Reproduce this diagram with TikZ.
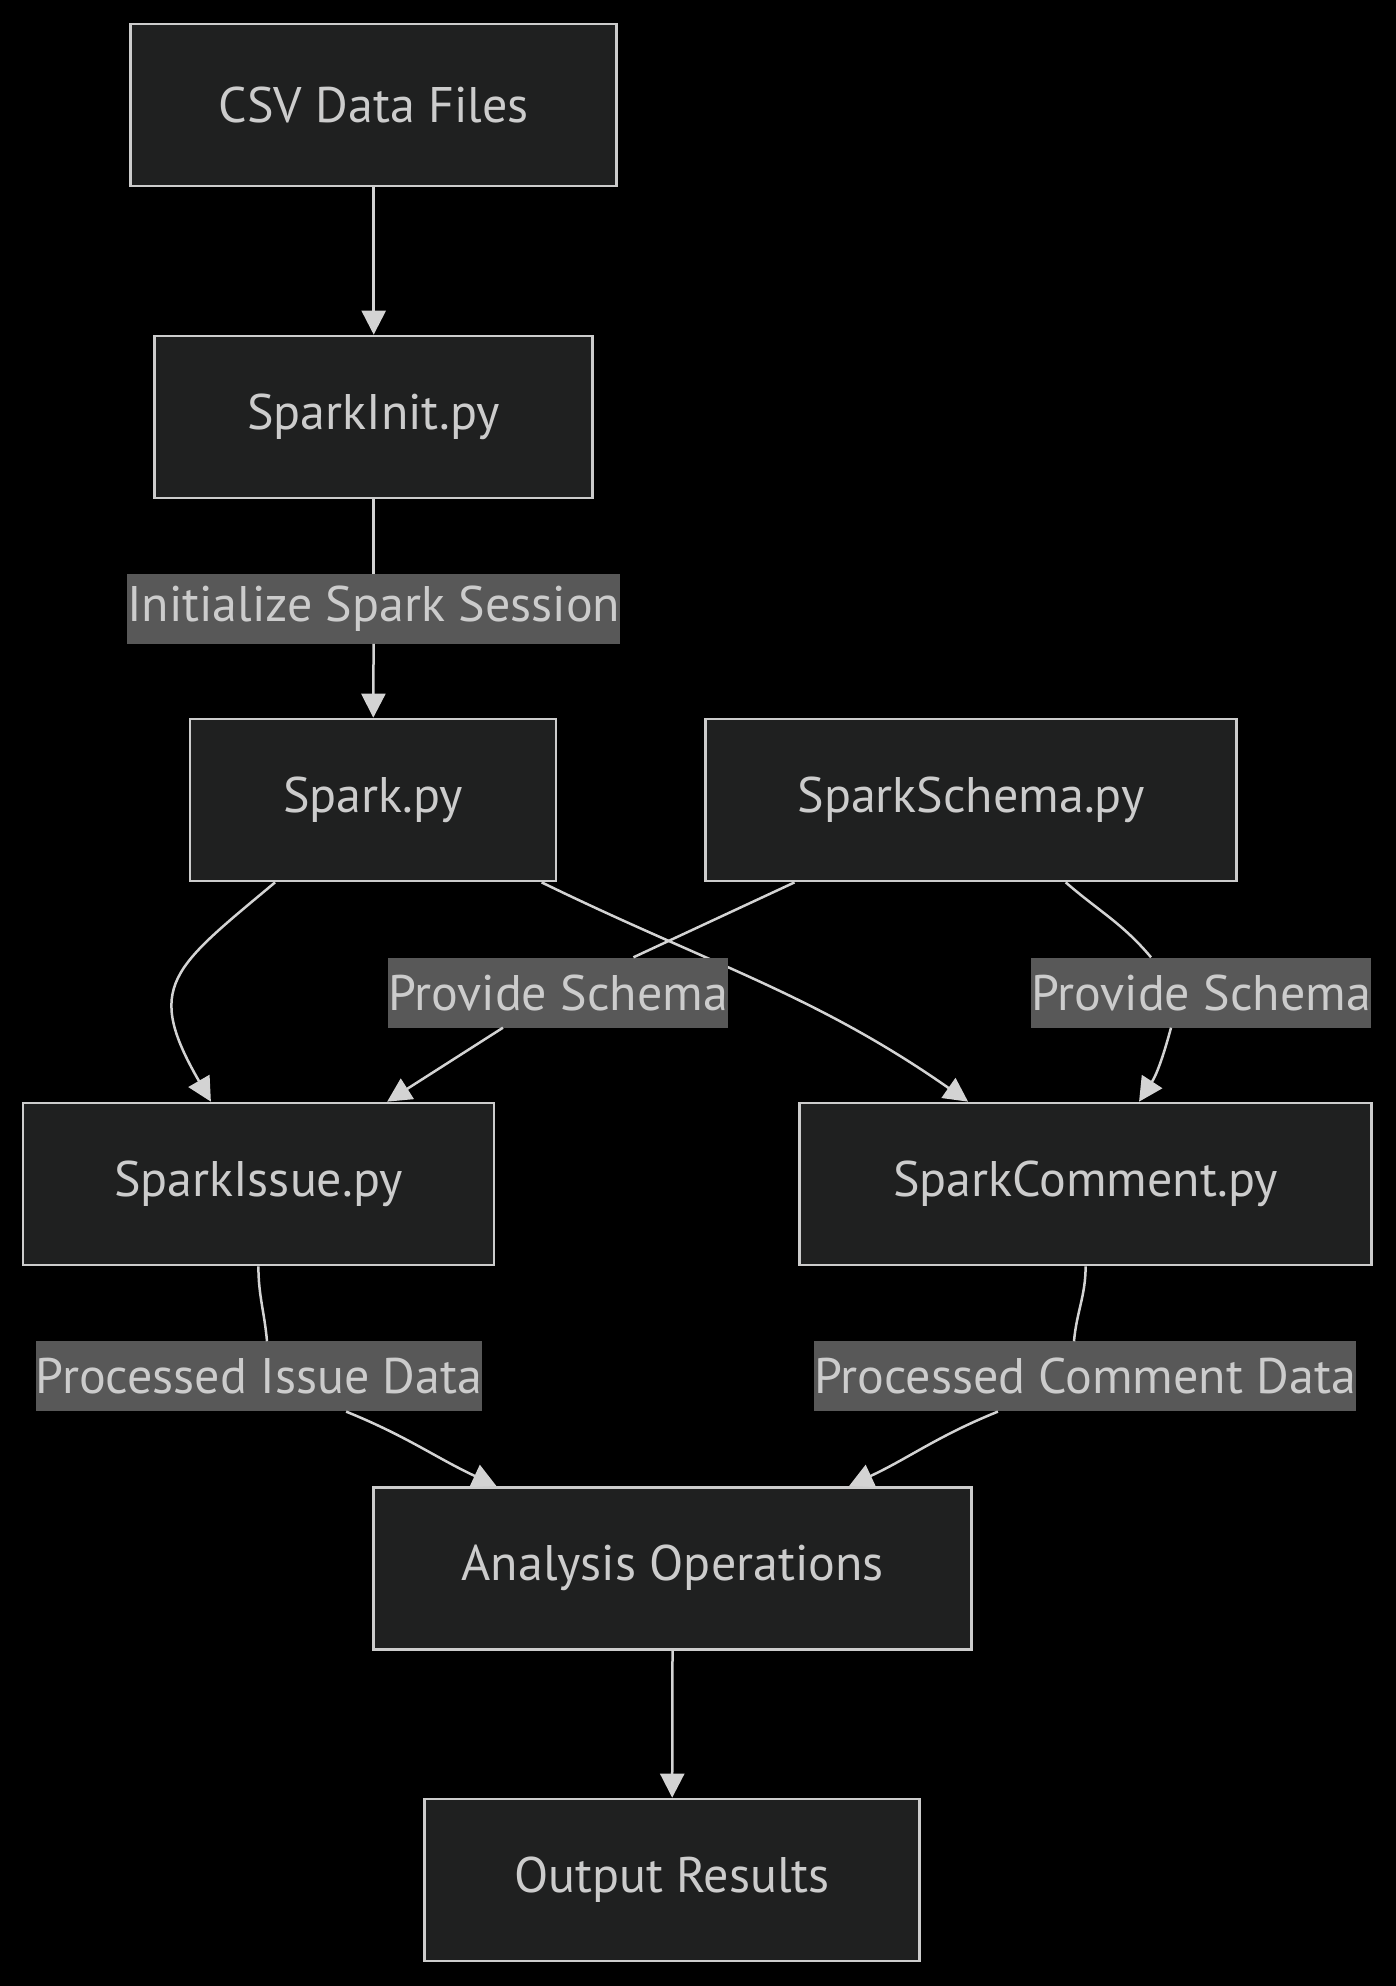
\documentclass[tikz,border=0pt]{standalone}
\usepackage{fontspec}
\setmainfont{PT Sans}
\usetikzlibrary{arrows.meta}
\definecolor{boxfill}{HTML}{1F2020}
\definecolor{boxline}{HTML}{CCCCCC}
\definecolor{txt}{HTML}{CCCCCC}
\definecolor{lblfill}{HTML}{585858}
\definecolor{edge}{HTML}{D3D3D3}
\begin{document}
\begin{tikzpicture}[x=1pt, y=1pt,
    every node/.style={font=\fontsize{50}{60}\selectfont, text=txt},
    box/.style={rectangle, draw=boxline, fill=boxfill, line width=2.7pt, minimum height=162pt, inner sep=0pt},
    lbl/.style={rectangle, fill=lblfill, minimum height=70pt, inner sep=0pt},
    line/.style={draw=edge, line width=2.5pt},
    link/.style={line, -{Triangle[length=24pt, width=24pt]}}]
    \useasboundingbox [fill=black] (0, 0) rectangle (1396, -1986);
    \node (csv) at (373.7, -105) [box, minimum width=486pt] {CSV Data Files};
    \node (init) at (373.7, -417) [box, minimum width=438pt] {SparkInit.py};
    \node (spark) at (373, -800) [box, minimum width=366pt] {Spark.py};
    \node (schema) at (971, -800) [box, minimum width=531pt] {SparkSchema.py};
    \node (issue) at (258.4, -1184) [box, minimum width=471pt] {SparkIssue.py};
    \node (comment) at (1085.6, -1184) [box, minimum width=572pt] {SparkComment.py};
    \node (analysis) at (672.7, -1568.3) [box, minimum width=598pt] {Analysis Operations};
    \node (output) at (672, -1880) [box, minimum width=495pt] {Output Results};
    \draw [link] (spark) to[out=-26, in=145] (comment);
    \node (l1) at (373.7, -608.7) [lbl, minimum width=489pt] {Initialize Spark Session};
    \node (l2) at (558, -992.5) [lbl, minimum width=338pt] {Provide Schema};
    \node (l3) at (1201, -992.5) [lbl, minimum width=337pt] {Provide Schema};
    \node (l4) at (259, -1376.4) [lbl, minimum width=442pt] {Processed Issue Data};
    \node (l5) at (1085, -1376.4) [lbl, minimum width=541pt] {Processed Comment Data};
    \draw [link] (csv) to (init);
    \draw [line] (init) to (l1);
    \draw [link] (l1) to (spark);
    \draw [link] (spark) to[out=220, in=120, looseness=1.5] (issue);
    \draw [line] (schema) to (l2);
    \draw [link] (l2) to (issue);
    \draw [line] (schema) to[out=-41, in=130] ([xshift=-50pt]l3.north);
    \draw [link] ([xshift=-30pt]l3.south) to[out=-105, in=57] (comment);
    \draw [line] (issue) to[out=-90, in=95] ([xshift=8pt]l4.north);
    \draw [link] (l4) to[out=-22, in=155] (analysis);
    \draw [line] (comment) to[out=-90, in=85] ([xshift=-11pt]l5.north);
    \draw [link] (l5) to[out=202, in=25] (analysis);
    \draw [link] (analysis) to (output);
\end{tikzpicture}
\end{document}
